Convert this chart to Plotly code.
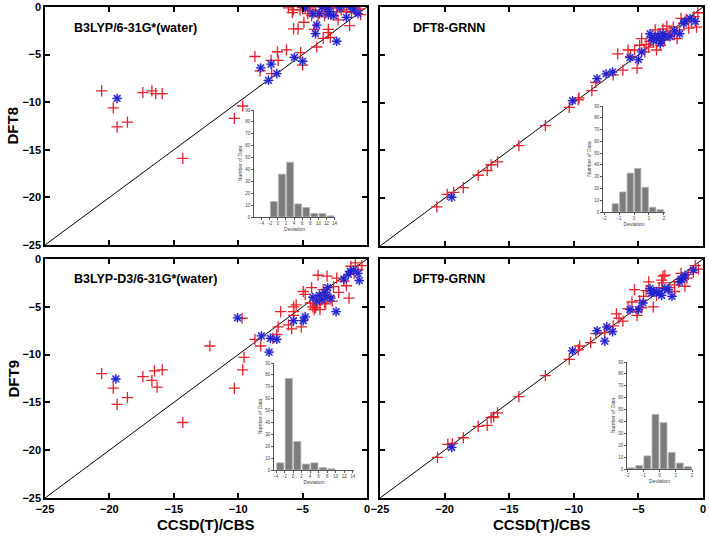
import plotly.graph_objects as go

# ---------------- data ----------------
AXIS_MIN, AXIS_MAX = -25, 0
MAIN_TICKS = [-25, -20, -15, -10, -5, 0]

# Panel 1: B3LYP/6-31G*(water) vs CCSD(T)/CBS
p1_red_x = [-20.6, -19.7, -19.4, -18.6, -17.4, -16.7, -16.4, -15.9, -14.3, -10.3, -9.65, -8.7, -8.3, -7.45, -6.95,
            -6.25, -7.4, -6.9, -5.15, -5.0, -5.7, -5.35, -4.9, -4.1, -3.9, -3.4, -3.0, -3.0, -2.85, -2.25, -1.35,
            -6.1, -5.7, -5.2, -4.4, -4.6, -4.0, -3.5, -2.6, -2.35, -1.8, -1.6, -0.9, -4.3, -3.8, -2.8, -2.0, -1.2,
            -0.6, -3.2, -5.0, -0.5, -3.3, -5.8, -4.5]
p1_red_y = [-8.8, -10.6, -12.6, -12.1, -9.0, -8.8, -9.1, -9.1, -15.9, -11.7, -10.4, -5.2, -6.7, -5.6, -4.7,
            -4.5, -7.0, -5.6, -4.8, -6.1, -2.3, -2.3, -1.6, -2.35, -4.2, -3.3, -2.35, -2.7, -3.2, -1.35, -1.95,
            -0.1, -0.3, -0.3, -0.1, -0.7, -0.3, -0.5, -0.1, -0.5, 0.0, -0.5, -0.1, -0.9, -1.0, -0.8, -0.3, -0.6,
            -0.2, -0.2, -0.05, -0.8, -0.9, -0.6, -0.4]
p1_blue_x = [-19.4, -8.25, -7.45, -7.65, -7.0, -5.65, -5.0, -3.9, -4.0, -2.35, -0.7, -1.6, -3.0, -3.7, -4.2,
             -4.8, -3.5, -3.1, -2.9, -2.1, -1.3, -2.6, -1.0]
p1_blue_y = [-9.6, -6.4, -6.0, -7.7, -7.0, -5.3, -5.7, -1.9, -2.8, -3.6, -0.7, -1.1, -0.8, -0.7, -0.7,
             -0.1, 0.0, -0.1, -0.5, -0.1, 0.0, -0.9, -0.3]

# Panel 2: DFT8-GRNN vs CCSD(T)/CBS
p2_red_x = [-20.6, -19.8, -19.3, -18.55, -17.4, -16.7, -16.4, -15.9, -14.25, -12.2, -10.35, -9.65, -9.6, -8.6,
            -8.3, -6.95, -6.2, -6.6, -5.1, -5.8, -5.3, -4.9, -4.75, -4.2, -4.1, -3.7, -3.1, -2.55, -2.2, -1.5,
            -1.1, -0.9, -0.5, -3.6, -3.3, -4.5, -3.85, -2.0, -2.3, -5.6, -3.0, -2.7, -1.8, -1.3, -0.7, -0.4,
            -4.4, -3.4, -2.8, -1.7]
p2_red_y = [-20.9, -19.6, -19.4, -18.9, -17.6, -17.1, -16.5, -16.2, -14.5, -12.4, -10.5, -9.7, -9.5, -8.75,
            -7.9, -7.1, -6.6, -4.9, -6.4, -4.5, -4.5, -4.0, -3.3, -4.2, -3.6, -2.4, -2.3, -2.6, -2.9, -1.7,
            -2.2, -1.5, -2.1, -4.5, -4.0, -4.7, -3.6, -3.3, -2.1, -5.2, -3.4, -3.0, -2.4, -1.3, -1.0, -0.6,
            -3.9, -2.8, -2.0, -1.2]
p2_blue_x = [-19.45, -10.1, -8.2, -7.5, -7.0, -5.65, -5.0, -4.1, -3.85, -3.3, -3.1, -2.95, -2.55, -1.8, -1.5,
             -1.4, -0.6, -3.6, -4.75, -3.5, -2.2, -1.0, -4.0, -3.2]
p2_blue_y = [-19.9, -9.8, -7.5, -7.0, -6.8, -5.3, -5.5, -2.8, -3.5, -3.8, -2.8, -3.1, -3.1, -2.8, -1.7,
             -1.5, -1.5, -3.3, -4.7, -3.0, -2.5, -1.2, -3.2, -3.5]

# Panel 3: B3LYP-D3/6-31G*(water) vs CCSD(T)/CBS
p3_red_x = [-20.6, -19.7, -19.4, -18.6, -17.4, -16.7, -16.5, -16.3, -15.9, -14.3, -12.2, -10.3, -9.65, -9.55,
            -9.7, -8.7, -8.25, -7.3, -7.0, -6.9, -6.7, -6.1, -5.85, -5.1, -5.7, -5.7, -5.5, -4.95, -4.8, -4.3,
            -3.8, -3.1, -1.25, -1.4, -2.6, -3.4, -2.9, -2.35, -1.8, -0.7, -0.4, -4.0, -3.65, -4.4, -4.2, -3.2,
            -2.7, -2.2, -1.6, -1.0, -4.1, -3.9, -3.3, -5.7, -0.9]
p3_red_y = [-12.0, -13.5, -15.2, -14.5, -12.3, -12.7, -11.7, -13.4, -11.6, -17.1, -9.1, -13.5, -11.6, -10.3,
            -6.2, -8.4, -9.1, -8.3, -7.9, -7.1, -5.5, -6.9, -7.3, -7.1, -5.9, -5.0, -4.8, -3.4, -3.7, -3.0,
            -1.7, -1.8, -0.76, -4.1, -2.9, -3.2, -3.9, -2.0, -2.3, -1.1, -0.7, -5.1, -5.3, -4.6, -5.0, -4.7,
            -4.4, -3.5, -2.8, -1.5, -5.3, -4.8, -4.6, -5.5, -0.4]
p3_blue_x = [-19.5, -10.05, -8.2, -7.5, -7.0, -7.6, -5.7, -4.95, -4.8, -2.4, -0.6, -3.9, -3.5, -3.1, -3.05,
             -4.2, -2.8, -1.8, -1.45, -0.7, -1.3, -1.05, -3.7, -3.3]
p3_blue_y = [-12.55, -6.15, -8.05, -8.3, -8.4, -9.75, -6.45, -6.45, -6.05, -5.5, -2.25, -4.4, -4.25, -3.9, -3.0,
             -4.0, -4.1, -2.1, -1.6, -1.5, -1.3, -1.15, -3.8, -3.5]

# Panel 4: DFT9-GRNN vs CCSD(T)/CBS
p4_red_x = [-20.55, -19.75, -19.4, -18.55, -17.4, -16.7, -16.4, -16.2, -15.9, -14.25, -12.2, -10.35, -9.65, -9.55,
            -8.7, -8.3, -7.6, -6.95, -6.7, -6.2, -5.8, -5.5, -5.3, -5.1, -5.1, -4.6, -4.2, -3.85, -3.2, -2.95,
            -0.35, -1.25, -1.9, -4.9, -4.75, -3.1, -3.1, -2.2, -2.2, -1.4, -1.15, -0.75, -3.6, -6.5, -4.4,
            -3.4, -2.6, -1.7, -0.6]
p4_red_y = [-20.75, -19.4, -19.3, -18.7, -17.5, -17.4, -16.6, -16.5, -16.1, -14.4, -12.2, -10.5, -9.5, -9.1,
            -8.75, -7.8, -7.7, -7.0, -5.75, -6.5, -5.2, -4.5, -3.2, -5.9, -5.5, -3.9, -2.4, -5.0, -2.2, -1.7,
            -1.05, -2.0, -2.4, -4.35, -5.1, -1.8, -2.5, -2.7, -3.4, -2.85, -1.6, -1.4, -3.8, -6.2, -3.3,
            -3.0, -3.0, -1.5, -0.7]
p4_blue_x = [-19.45, -10.1, -8.2, -7.45, -7.6, -7.0, -5.65, -5.0, -4.65, -4.1, -4.0, -3.6, -3.2, -2.95, -2.4,
             -1.8, -1.5, -1.4, -0.75, -3.8, -3.4, -2.7, -1.7]
p4_blue_y = [-19.7, -9.6, -7.5, -7.1, -8.6, -7.6, -5.3, -5.3, -4.6, -3.1, -3.6, -3.4, -3.8, -3.1, -3.9,
             -2.4, -2.0, -1.7, -1.15, -3.4, -3.6, -3.2, -2.1]

# Histograms of deviations (bin centres, counts)
h1_bins = [-1, 1, 3, 5, 7, 9, 11, 13]
h1_counts = [13, 36, 46, 11, 8, 3, 3, 1]
h2_bins = [-1.25, -0.75, -0.25, 0.25, 0.75, 1.25, 1.75]
h2_counts = [7, 17, 33, 37, 21, 4, 2]
h3_bins = [-3, -1, 1, 3, 5, 7, 9]
h3_counts = [6, 77, 24, 5, 6, 2, 1]
h4_bins = [-1.75, -1.25, -0.75, -0.25, 0.25, 0.75, 1.25, 1.75]
h4_counts = [1, 3, 11, 46, 39, 14, 5, 2]

wide_ticks = [-4, -2, 0, 2, 4, 6, 8, 10, 12, 14]
narrow_ticks = [-2, -1, 0, 1, 2]
count_ticks = [0, 10, 20, 30, 40, 50, 60, 70, 80, 90]

panel_titles = ["B3LYP/6-31G*(water)", "DFT8-GRNN", "B3LYP-D3/6-31G*(water)", "DFT9-GRNN"]
y_titles = ["DFT8", "DFT9"]
x_title = "CCSD(T)/CBS"

# ---------------- layout helpers ----------------
W, H = 709, 536
FONT = "Arial, Liberation Sans, sans-serif"
RED = "#e3222b"
BLUE = "#2424cc"


def dx(a, b):
    return [a / W, b / W]


def dy(top, bottom):
    return [1 - bottom / H, 1 - top / H]


fig = go.Figure()

panels = [
    dict(rx=p1_red_x, ry=p1_red_y, bx=p1_blue_x, by=p1_blue_y, xd=dx(45, 367), yd=dy(7, 245), xl=False, yl=True),
    dict(rx=p2_red_x, ry=p2_red_y, bx=p2_blue_x, by=p2_blue_y, xd=dx(380, 703), yd=dy(7, 246), xl=False, yl=False),
    dict(rx=p3_red_x, ry=p3_red_y, bx=p3_blue_x, by=p3_blue_y, xd=dx(45, 367), yd=dy(259, 498), xl=True, yl=True),
    dict(rx=p4_red_x, ry=p4_red_y, bx=p4_blue_x, by=p4_blue_y, xd=dx(380, 703), yd=dy(259, 498), xl=True, yl=False),
]

main_axis_style = dict(range=[AXIS_MIN, AXIS_MAX], tickvals=MAIN_TICKS, ticks="inside", ticklen=5, tickwidth=1.5,
                       tickcolor="black", showline=True, linewidth=1.5, linecolor="black", mirror="ticks",
                       showgrid=False, zeroline=False, automargin=False,
                       tickfont=dict(family=FONT, size=11, color="black", weight="bold"))

layout = {}
for i, p in enumerate(panels, start=1):
    xa, ya = f"x{i}", f"y{i}"
    fig.add_trace(go.Scatter(x=[AXIS_MIN, AXIS_MAX], y=[AXIS_MIN, AXIS_MAX], mode="lines",
                             line=dict(color="black", width=1), xaxis=xa, yaxis=ya, showlegend=False,
                             hoverinfo="skip"))
    fig.add_trace(go.Scatter(x=p["rx"], y=p["ry"], mode="markers", xaxis=xa, yaxis=ya, showlegend=False,
                             marker=dict(symbol="cross-thin-open", size=8, color=RED,
                                         line=dict(color=RED, width=1.3))))
    fig.add_trace(go.Scatter(x=p["bx"], y=p["by"], mode="markers", xaxis=xa, yaxis=ya, showlegend=False,
                             marker=dict(symbol="circle", size=8, color="rgba(110,110,255,0.35)",
                                         line=dict(width=0))))
    fig.add_trace(go.Scatter(x=p["bx"], y=p["by"], mode="markers", xaxis=xa, yaxis=ya, showlegend=False,
                             marker=dict(symbol="asterisk-open", size=8, color=BLUE,
                                         line=dict(color=BLUE, width=1.3))))
    layout[f"xaxis{i}"] = dict(main_axis_style, domain=p["xd"], anchor=ya, showticklabels=p["xl"])
    layout[f"yaxis{i}"] = dict(main_axis_style, domain=p["yd"], anchor=xa, showticklabels=p["yl"])

# ---------------- insets ----------------
insets = [
    dict(bins=h1_bins, counts=h1_counts, w=2, rng=[-5.9, 14.1], ticks=wide_ticks, xd=dx(254, 335), yd=dy(110, 217)),
    dict(bins=h2_bins, counts=h2_counts, w=0.5, rng=[-2.07, 2.07], ticks=narrow_ticks, xd=dx(603, 665), yd=dy(106, 212)),
    dict(bins=h3_bins, counts=h3_counts, w=2, rng=[-4.47, 14.3], ticks=wide_ticks, xd=dx(274, 354), yd=dy(363, 470)),
    dict(bins=h4_bins, counts=h4_counts, w=0.5, rng=[-2.0, 2.0], ticks=narrow_ticks, xd=dx(627, 692), yd=dy(362, 469)),
]

small_font = dict(family=FONT, size=4.5, color="#444")
for j, ins in enumerate(insets, start=5):
    xa, ya = f"x{j}", f"y{j}"
    fig.add_trace(go.Bar(x=ins["bins"], y=ins["counts"], width=[ins["w"] * 0.84] * len(ins["bins"]),
                         marker=dict(color="#7c7c7c", line=dict(color="#b4b4b4", width=0.8)),
                         xaxis=xa, yaxis=ya, showlegend=False))
    layout[f"xaxis{j}"] = dict(domain=ins["xd"], anchor=ya, range=ins["rng"], tickvals=ins["ticks"],
                               ticks="outside", ticklen=2, tickwidth=0.6, tickcolor="#555", showline=True,
                               linewidth=0.7, linecolor="#555", showgrid=False, zeroline=False,
                               tickfont=small_font, automargin=False,
                               title=dict(text="Deviation", font=dict(family=FONT, size=5, color="#444"),
                                          standoff=2))
    layout[f"yaxis{j}"] = dict(domain=ins["yd"], anchor=xa, range=[0, 90], tickvals=count_ticks,
                               ticks="outside", ticklen=2, tickwidth=0.6, tickcolor="#555", showline=True,
                               linewidth=0.7, linecolor="#555", showgrid=False, zeroline=False,
                               tickfont=small_font, automargin=False,
                               title=dict(text="Number of Data", font=dict(family=FONT, size=5, color="#444"),
                                          standoff=2))

# ---------------- annotations ----------------
title_font = dict(family=FONT, size=12.5, color="black", weight="bold")
axis_font = dict(family=FONT, size=15, color="black", weight="bold")
ann = []
title_pos = [(72, 28), (411, 28), (72, 279), (411, 279)]
for t, (px, py) in zip(panel_titles, title_pos):
    ann.append(dict(text=t, x=px / W, y=1 - py / H, xref="paper", yref="paper", xanchor="left",
                    yanchor="middle", showarrow=False, font=title_font))
for t, py in zip(y_titles, [126, 379]):
    ann.append(dict(text=t, x=12.5 / W, y=1 - py / H, xref="paper", yref="paper", xanchor="center",
                    yanchor="middle", textangle=-90, showarrow=False, font=axis_font))
for px in [206, 542]:
    ann.append(dict(text=x_title, x=px / W, y=1 - 524 / H, xref="paper", yref="paper", xanchor="center",
                    yanchor="middle", showarrow=False, font=axis_font))

fig.update_layout(template="none", width=W, height=H, margin=dict(l=0, r=0, t=0, b=0, autoexpand=False),
                  paper_bgcolor="white", plot_bgcolor="rgba(0,0,0,0)", showlegend=False, annotations=ann,
                  **layout)

fig.write_html("out.html", config={"displayModeBar": False},
               post_script="document.body.style.margin='0';document.body.style.overflow='hidden';")
